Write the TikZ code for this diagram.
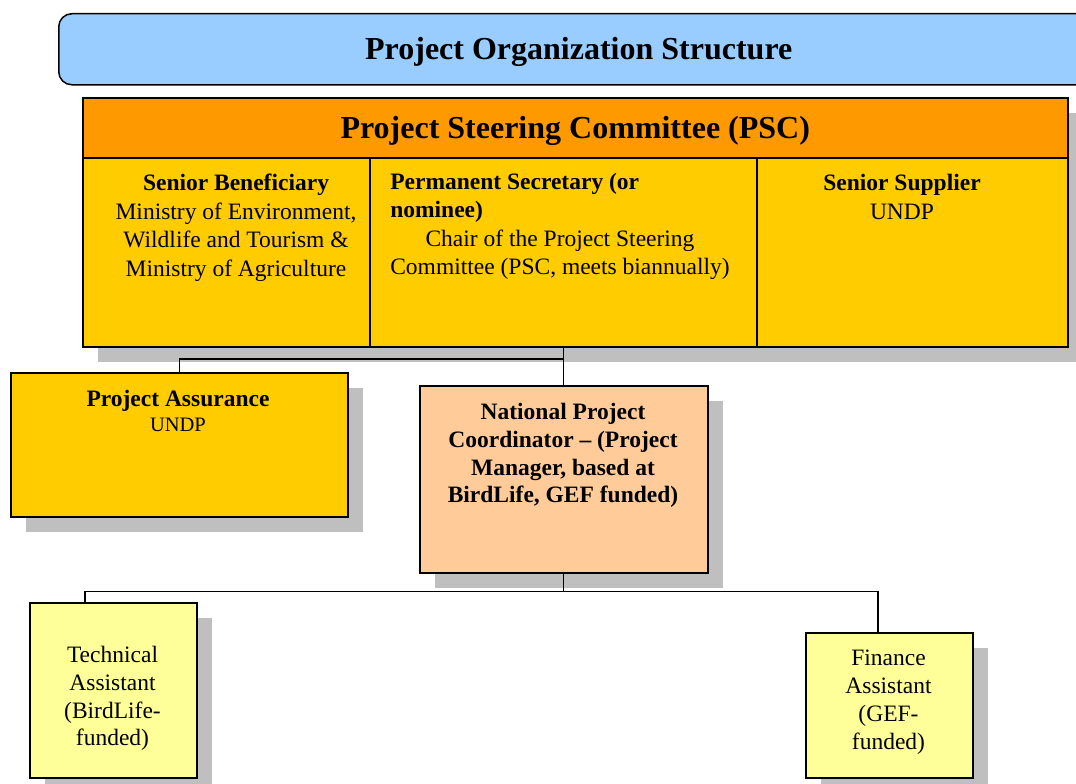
\documentclass[tikz,border=0pt]{standalone}
\usepackage{fontspec}
\setmainfont{Liberation Serif}
\usetikzlibrary{positioning, shadows}
\definecolor{titleblue}{HTML}{99CCFF}
\definecolor{pscorange}{HTML}{FF9900}
\definecolor{pscgold}{HTML}{FFCC00}
\definecolor{npcpeach}{HTML}{FFCC99}
\definecolor{asstyellow}{HTML}{FFFF99}
\newcommand{\headtxt}{\fontsize{32}{38}\selectfont\bfseries}
\newcommand{\boxtxt}{\fontsize{23.5}{28.5}\selectfont}
\newcommand{\smalltxt}{\fontsize{20.5}{24}\selectfont}
\tikzset{
  titlebox/.style={draw=black, line width=1.5pt, rounded corners=13pt, fill=titleblue, anchor=north west, inner sep=0pt, font=\headtxt},
  orgbox/.style={draw=black, line width=1.5pt, anchor=north west, inner sep=0pt,
    drop shadow={shadow xshift=15.5pt, shadow yshift=-15.5pt, fill=black!25, opacity=1}},
  boxtext/.style={anchor=north, align=center, inner sep=0pt, font=\boxtxt, execute at begin node=\strut},
  link/.style={line width=1.3pt}
}

\begin{document}
\begin{tikzpicture}[x=1pt,y=-1pt]
\clip (0,0) rectangle (1076,784);
% heading
\node[titlebox, minimum width=1040pt, minimum height=71pt, text depth=2pt] (title) at (58,13) {Project Organization Structure};
% steering committee
\node[orgbox, fill=pscorange, minimum width=985pt, minimum height=60pt, font=\headtxt, text depth=0pt] (psc) at (82,97) {Project Steering Committee (PSC)};
\node[orgbox, fill=pscgold, minimum width=287pt, minimum height=189pt] (benef) at (82,157) {};
\node[orgbox, fill=pscgold, minimum width=387pt, minimum height=189pt] (chair) at (369,157) {};
\node[orgbox, fill=pscgold, minimum width=311pt, minimum height=189pt] (supply) at (756,157) {};
\node[boxtext] (benefT) at (236,174) {\textbf{Senior Beneficiary}\\Ministry of Environment,\\Wildlife and Tourism \&\\Ministry of Agriculture};
\node[anchor=north, inner sep=0pt, font=\boxtxt] (chairT) at (560,169) {\begin{tabular}[t]{@{}c@{}}
  \multicolumn{1}{@{}l@{}}{\textbf{Permanent Secretary (or}}\\
  \multicolumn{1}{@{}l@{}}{\textbf{nominee)}}\\
  Chair of the Project Steering\\
  Committee (PSC, meets biannually)
  \end{tabular}};
\node[boxtext] (supplyT) at (902,174) {\textbf{Senior Supplier}\\UNDP};
% assurance and coordinator
\node[orgbox, fill=pscgold, minimum width=337pt, minimum height=144pt] (assure) at (10,372) {};
\node[boxtext] (assureT) at (178,390) {\textbf{Project Assurance}\\[-3.5pt]{\smalltxt UNDP}};
\node[orgbox, fill=npcpeach, minimum width=288pt, minimum height=187pt] (npc) at (419,385) {};
\node[boxtext, font=\fontsize{23.5}{27.8}\selectfont\bfseries] (npcT) at (563,403) {National Project\\Coordinator – (Project\\Manager, based at\\BirdLife, GEF funded)};
% assistants
\node[orgbox, fill=asstyellow, minimum width=167pt, minimum height=175pt] (tech) at (29,602) {};
\node[boxtext, font=\fontsize{23.5}{27.8}\selectfont] (techT) at (112.5,646) {Technical\\Assistant\\(BirdLife-\\funded)};
\node[orgbox, fill=asstyellow, minimum width=167pt, minimum height=145pt] (fin) at (805,632) {};
\node[boxtext, font=\fontsize{23.5}{27.8}\selectfont] (finT) at (888.5,650) {Finance\\Assistant\\(GEF-\\funded)};
% connectors
\coordinate (techTop) at ([xshift=56pt]tech.north west);
\coordinate (finTop) at ([xshift=73pt]fin.north west);
\draw[link] (chair.south) -- (chair.south |- npc.north);
\draw[link] (chair.south |- 0,359) -| (assure.north);
\draw[link] (npc.south) -- ++(0,18) coordinate (bus);
\draw[link] (techTop) |- (bus) -| (finTop);
\end{tikzpicture}
\end{document}
